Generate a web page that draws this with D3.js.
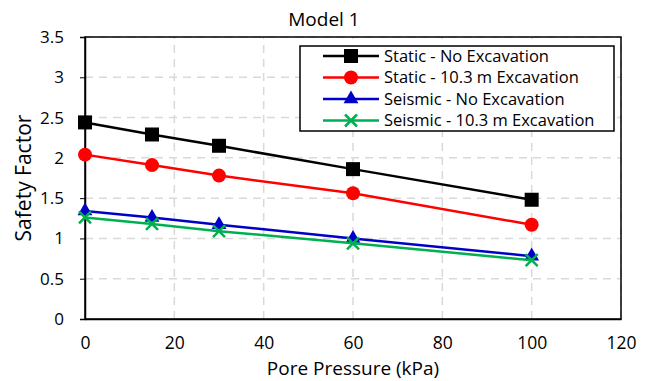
<!DOCTYPE html>
<html>
<head>
<meta charset="utf-8">
<script src="https://cdn.jsdelivr.net/npm/d3@7"></script>
<style>
  body { margin: 0; background: #fff; }
  text { font-family: "Open Sans", "Liberation Sans", sans-serif; fill: #000; }
</style>
</head>
<body>
<div id="chart"></div>
<script>
// readings
var pressure = [0, 15, 30, 60, 100];
var staticNoExc = [2.44, 2.29, 2.15, 1.86, 1.48];
var staticExc = [2.04, 1.91, 1.78, 1.56, 1.17];
var seismicNoExc = [1.34, 1.26, 1.17, 1.00, 0.78];
var seismicExc = [1.26, 1.18, 1.09, 0.94, 0.73];
var seriesNames = ["Static - No Excavation", "Static - 10.3 m Excavation",
                   "Seismic - No Excavation", "Seismic - 10.3 m Excavation"];
var xTicks = [0, 20, 40, 60, 80, 100, 120];
var yTicks = [0, 0.5, 1, 1.5, 2, 2.5, 3, 3.5];

var width = 648, height = 381;
var margin = {top: 37, right: 27, bottom: 62, left: 85};

var series = [
    {name: seriesNames[0], values: staticNoExc, color: "#000000", marker: "square"},
    {name: seriesNames[1], values: staticExc, color: "#ff0000", marker: "circle"},
    {name: seriesNames[2], values: seismicNoExc, color: "#0000c8", marker: "triangle"},
    {name: seriesNames[3], values: seismicExc, color: "#00b050", marker: "cross"}
];

var svg = d3.select("#chart").append("svg")
    .attr("width", width)
    .attr("height", height);

var x = d3.scaleLinear().domain([0, 120]).range([margin.left, width - margin.right]);
var y = d3.scaleLinear().domain([0, 3.5]).range([height - margin.bottom, margin.top]);

// dashed grid
svg.append("g").selectAll("line").data(yTicks.slice(1)).enter().append("line")
    .attr("x1", x(0)).attr("x2", x(120))
    .attr("y1", function(d) { return y(d); }).attr("y2", function(d) { return y(d); })
    .style("stroke", "#d9d9d9").style("stroke-width", 1.5).style("stroke-dasharray", "8,6");
svg.append("g").selectAll("line").data(xTicks.slice(1)).enter().append("line")
    .attr("y1", y(0)).attr("y2", y(3.5))
    .attr("x1", function(d) { return x(d); }).attr("x2", function(d) { return x(d); })
    .style("stroke", "#d9d9d9").style("stroke-width", 1.5).style("stroke-dasharray", "8,6");

// frame
svg.append("rect")
    .attr("x", x(0)).attr("y", y(3.5))
    .attr("width", x(120) - x(0)).attr("height", y(0) - y(3.5))
    .style("fill", "none").style("stroke", "#000").style("stroke-width", 1.5);

// axes
var yAxis = svg.append("g")
    .attr("transform", "translate(" + x(0) + ",0)")
    .call(d3.axisLeft(y).tickValues(yTicks).tickSize(5).tickPadding(16)
        .tickFormat(function(d) { return String(d); }));
yAxis.select(".domain").style("stroke", "#000").style("stroke-width", 1.5);
yAxis.selectAll("text").style("font-size", "17px");

var xAxis = svg.append("g")
    .attr("transform", "translate(0," + y(0) + ")")
    .call(d3.axisBottom(x).tickValues(xTicks).tickSize(0).tickPadding(18));
xAxis.select(".domain").style("stroke", "#000").style("stroke-width", 1.5);
xAxis.selectAll("text").style("font-size", "17.5px");

// titles
svg.append("text").attr("x", 324).attr("y", 26).attr("text-anchor", "middle")
    .style("font-size", "19px").text("Model 1");
svg.append("text").attr("x", (x(0) + x(120)) / 2).attr("y", 375).attr("text-anchor", "middle")
    .style("font-size", "19px").text("Pore Pressure (kPa)");
svg.append("text").attr("transform", "translate(31," + ((y(0) + y(3.5)) / 2) + ") rotate(-90)")
    .attr("text-anchor", "middle").style("font-size", "21px").text("Safety Factor");

function drawMarker(g, type, color) {
    if (type === "square") {
        g.append("rect").attr("x", -7).attr("y", -7).attr("width", 14).attr("height", 14)
            .style("fill", color);
    } else if (type === "circle") {
        g.append("circle").attr("r", 7).style("fill", color);
    } else if (type === "triangle") {
        g.append("path").attr("d", d3.symbol().type(d3.symbolTriangle).size(95))
            .style("fill", color);
    } else {
        g.append("path").attr("d", "M-6,-6L6,6M-6,6L6,-6")
            .style("stroke", color).style("stroke-width", 2.5).style("fill", "none");
    }
}

var line = d3.line()
    .x(function(d) { return x(d.p); })
    .y(function(d) { return y(d.v); });

series.forEach(function(s) {
    var pts = pressure.map(function(p, i) { return {p: p, v: s.values[i]}; });
    svg.append("path").datum(pts)
        .attr("d", line)
        .style("fill", "none").style("stroke", s.color).style("stroke-width", 2.5);
    svg.append("g").selectAll("g").data(pts).enter().append("g")
        .attr("transform", function(d) { return "translate(" + x(d.p) + "," + y(d.v) + ")"; })
        .each(function() { drawMarker(d3.select(this), s.marker, s.color); });
});

// legend
var legend = svg.append("g").attr("transform", "translate(300,46)");
legend.append("rect").attr("width", 314).attr("height", 85)
    .style("fill", "#fff").style("stroke", "#000").style("stroke-width", 1.5);
series.forEach(function(s, i) {
    var row = legend.append("g").attr("transform", "translate(0," + (10 + i * 21.5) + ")");
    row.append("line").attr("x1", 23).attr("x2", 79)
        .style("stroke", s.color).style("stroke-width", 2.5);
    drawMarker(row.append("g").attr("transform", "translate(51,0)"), s.marker, s.color);
    row.append("text").attr("x", 84).attr("dy", "0.35em")
        .style("font-size", "16.5px").text(s.name);
});
</script>
</body>
</html>
